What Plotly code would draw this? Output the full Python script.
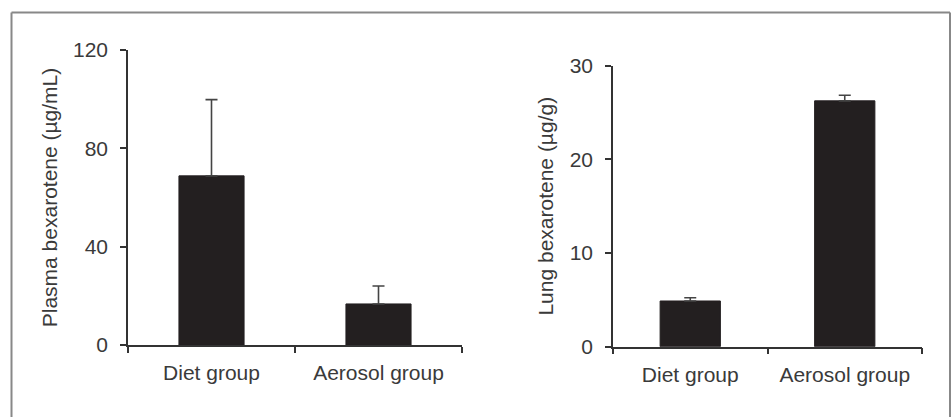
import plotly.graph_objects as go

categories = ["Diet group", "Aerosol group"]
plasma_values = [68.8, 16.7]
plasma_errors = [31.0, 7.3]
lung_values = [4.88, 26.25]
lung_errors = [0.35, 0.6]
plasma_ticks = [0, 40, 80, 120]
lung_ticks = [0, 10, 20, 30]

W, H = 951, 417
BAR = "#231f20"
TXT = "#3a3a3a"
FONT = "Liberation Sans, Arial, sans-serif"
FS = 21

fig = go.Figure()
fig.add_trace(go.Bar(
    x=categories, y=plasma_values, width=0.39,
    marker=dict(color=BAR, line=dict(color=BAR, width=1)),
    error_y=dict(type="data", array=plasma_errors, arrayminus=[0, 0], symmetric=False,
                 color="#444444", thickness=1.6, width=6),
    xaxis="x", yaxis="y", showlegend=False))
fig.add_trace(go.Bar(
    x=categories, y=lung_values, width=0.39,
    marker=dict(color=BAR, line=dict(color=BAR, width=1)),
    error_y=dict(type="data", array=lung_errors, arrayminus=[0, 0], symmetric=False,
                 color="#444444", thickness=1.6, width=6),
    xaxis="x2", yaxis="y2", showlegend=False))

def px_x(p):
    return p / W

def px_y(p):
    return 1 - p / H

axis_common = dict(showgrid=False, zeroline=False, showline=True, linecolor="#333333",
                   linewidth=1.5, ticks="outside", tickcolor="#333333", tickwidth=1.5,
                   ticklen=6, automargin=False,
                   tickfont=dict(family=FONT, size=FS, color=TXT))

title_font = dict(family=FONT, size=FS, color=TXT)

fig.update_layout(
    width=W, height=H, margin=dict(l=0, r=0, t=0, b=0, pad=0),
    paper_bgcolor="white", plot_bgcolor="white",
    font=dict(family=FONT, color=TXT),
    xaxis=dict(domain=[px_x(128), px_x(462)], anchor="y", type="category",
               range=[-0.5, 1.5], tickson="boundaries", ticklabelstandoff=8, **axis_common),
    yaxis=dict(domain=[px_y(345), px_y(50)], anchor="x", range=[0, 120],
               tickvals=plasma_ticks, ticklabelstandoff=8,
               title=dict(text="Plasma bexarotene (µg/mL)", standoff=10, font=title_font),
               **axis_common),
    xaxis2=dict(domain=[px_x(613), px_x(922)], anchor="y2", type="category",
                range=[-0.5, 1.5], tickson="boundaries", ticklabelstandoff=8, **axis_common),
    yaxis2=dict(domain=[px_y(346.7), px_y(65.7)], anchor="x2", range=[0, 30],
                tickvals=lung_ticks, ticklabelstandoff=8,
                title=dict(text="Lung bexarotene (µg/g)", standoff=10, font=title_font),
                **axis_common),
    shapes=[
        dict(type="line", xref="paper", yref="paper", x0=px_x(11.5), x1=px_x(11.5),
             y0=0, y1=px_y(12.5), line=dict(color="#888888", width=2)),
        dict(type="line", xref="paper", yref="paper", x0=px_x(11.5), x1=px_x(950),
             y0=px_y(12.5), y1=px_y(12.5), line=dict(color="#888888", width=2)),
        dict(type="line", xref="paper", yref="paper", x0=px_x(950), x1=px_x(950),
             y0=0, y1=px_y(12.5), line=dict(color="#888888", width=2)),
    ],
)

fig.write_html("out.html", config={"displayModeBar": False},
               post_script="document.body.style.margin='0';document.body.style.overflow='hidden';")
